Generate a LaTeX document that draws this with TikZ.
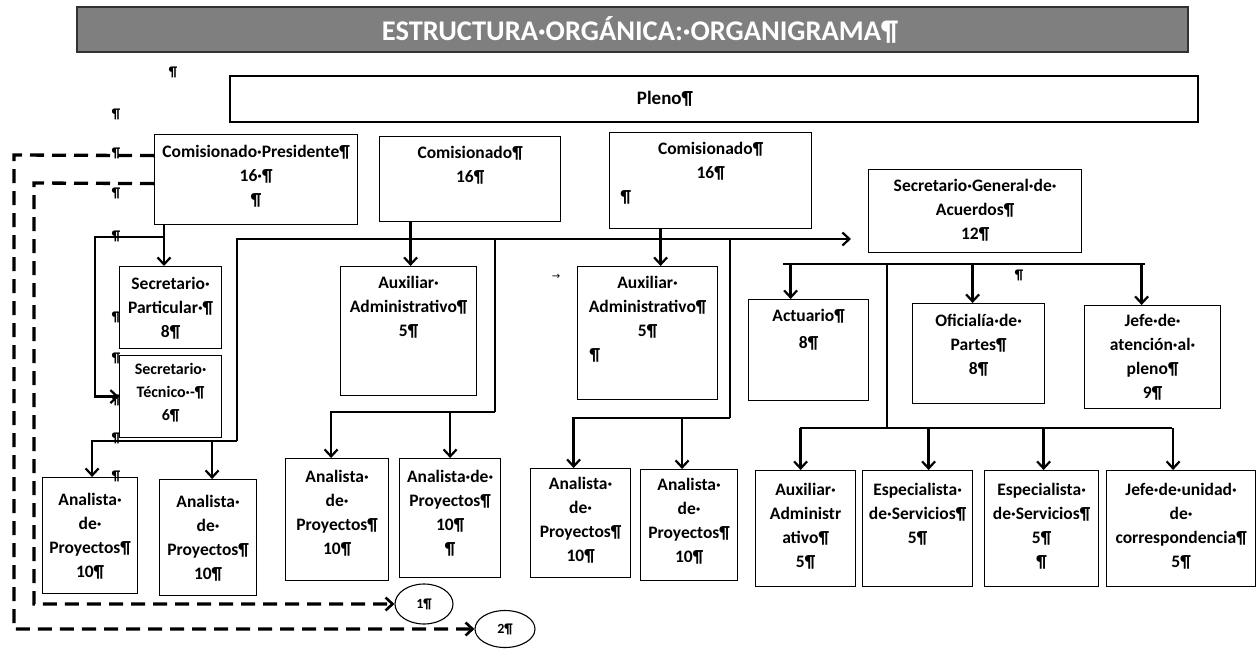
\documentclass[tikz,border=0pt]{standalone}
\usepackage{fontspec}
\setmainfont{Carlito}
\newfontfamily\symfont{DejaVu Sans}
\usetikzlibrary{arrows.meta,calc,shapes.geometric}
\definecolor{titlegray}{RGB}{127,127,127}
\definecolor{titleedge}{RGB}{50,50,50}
\newcommand{\ob}[4][22]{\parbox[c][#3pt][t]{#2pt}{\centering\rule{0pt}{#1pt}#4\par}}
\newcommand{\lpm}[1]{\makebox[\linewidth][l]{\hspace{#1pt}¶}}
\begin{document}
\begin{tikzpicture}[x=1pt,y=-1pt,
  orgbox/.style={draw,line width=1.2pt,inner sep=0pt,anchor=north west,
    font=\bfseries\fontsize{17.5}{24}\selectfont},
  conn/.style={line width=2.6pt},
  arr/.style={-{Straight Barb[length=7pt,width=13pt,line width=2.2pt]}},
  dsh/.style={line width=3.3pt,dash pattern=on 14pt off 8pt},
  darr/.style={-{Straight Barb[length=7pt,width=13pt,line width=2.6pt]}},
  pm/.style={inner sep=0pt,font=\bfseries\fontsize{14}{14}\selectfont},
  circ/.style={ellipse,draw,line width=1.1pt,inner sep=0pt,
    font=\bfseries\fontsize{14}{14}\selectfont}]
\useasboundingbox[fill=white] (0,0) rectangle (1260,648);

% stray paragraph marks
\node[pm] (q0) at (173,47) {¶};
\node[pm] (q1) at (173,72) {¶};
\node[pm] (q2) at (116,114) {¶};
\node[pm] (q3) at (116,153) {¶};
\node[pm] (q4) at (116,193) {¶};
\node[pm] (q5) at (116,236) {¶};
\node[pm] (q6) at (116,317) {¶};
\node[pm] (q7) at (116,358) {¶};
\node[pm] (q8) at (116,400) {¶};
\node[pm] (q9) at (116,438) {¶};
\node[pm] (q10) at (116,476) {¶};
\node[pm] (q11) at (1019,275) {¶};
\node[inner sep=0pt,font=\symfont\fontsize{10}{10}\selectfont] (tab) at (556,277) {→};

% title and Pleno
\node[draw=titleedge,fill=titlegray,line width=1.2pt,minimum width=1111pt,minimum height=45pt,
  inner sep=0pt,text=white,font=\bfseries\fontsize{28.5}{30}\selectfont] (title) at (632.5,29.5)
  {\hspace*{15pt}ESTRUCTURA·ORGÁNICA:·ORGANIGRAMA¶};
\node[draw,line width=1.2pt,minimum width=968pt,minimum height=46pt,inner sep=0pt,
  font=\bfseries\fontsize{19}{22}\selectfont] (pleno) at (714,99)
  {\makebox[900pt][c]{Pleno¶\hspace*{98pt}}};

% first level
\node[orgbox] (cp) at (154,134) {\ob[23]{203}{90}{Comisionado·Presidente¶\\16·¶\\¶}};
\node[orgbox] (c2) at (379,136) {\ob{181}{85}{Comisionado¶\\16¶}};
\node[orgbox] (c3) at (609,132) {\ob{202}{96}{Comisionado¶\\16¶\\\lpm{11}}};
\node[orgbox] (sg) at (868,169) {\ob{213}{83}{Secretario·General·de·\\Acuerdos¶\\12¶}};

% second level
\node[orgbox] (sp) at (119,266) {\ob[23]{102}{82}{Secretario·\\Particular·¶\\8¶}};
\node[orgbox,font=\bfseries\fontsize{16}{23}\selectfont] (st) at (119,355)
  {\ob[19]{102}{82}{Secretario·\\Técnico·-¶\\6¶}};
\node[orgbox] (a1) at (340,266) {\ob{136}{129}{Auxiliar·\\Administrativo¶\\5¶}};
\node[orgbox] (a2) at (577,266) {\ob{140}{133}{Auxiliar·\\Administrativo¶\\5¶\\\lpm{12}}};
\node[orgbox] (act) at (748,299) {\ob[22]{120}{101}{Actuario¶\\[3pt]8¶}};
\node[orgbox] (of) at (912,303) {\ob[23]{132}{100}{Oficialía·de·\\Partes¶\\8¶}};
\node[orgbox] (jat) at (1084,305) {\ob[21]{136}{103}{Jefe·de·\\atención·al·\\pleno¶\\9¶}};

% third level
\node[orgbox] (p1) at (42,477) {\ob[28]{95}{116}{Analista·\\de·\\Proyectos¶\\10¶}};
\node[orgbox] (p2) at (159,479) {\ob[28]{97}{116}{Analista·\\de·\\Proyectos¶\\10¶}};
\node[orgbox] (p3) at (285,458) {\ob[24]{103}{122}{Analista·\\de·\\Proyectos¶\\10¶}};
\node[orgbox] (p4) at (399,458) {\ob[24]{101}{119}{Analista·de·\\Proyectos¶\\10¶\\¶}};
\node[orgbox] (p5) at (530,468) {\ob[21]{100}{109}{Analista·\\de·\\Proyectos¶\\10¶}};
\node[orgbox] (p6) at (640,469) {\ob[21]{97}{111}{Analista·\\de·\\Proyectos¶\\10¶}};
\node[orgbox] (aa) at (755,470) {\ob[25]{100}{116}{Auxiliar·\\Administr\\ativo¶\\5¶}};
\node[orgbox] (e1) at (862,470) {\ob[25]{110}{116}{Especialista·\\de·Servicios¶\\5¶}};
\node[orgbox] (e2) at (984,470) {\ob[25]{114}{116}{Especialista·\\de·Servicios¶\\5¶\\¶}};
\node[orgbox] (ju) at (1106,470) {\ob[25]{149}{116}{Jefe·de·unidad·\\de·\\correspondencia¶\\5¶}};

% circles
\node[circ,minimum width=58pt,minimum height=40pt] (k1) at (424,604) {1¶};
\node[circ,minimum width=60pt,minimum height=37pt] (k2) at (505,629) {2¶};

% junction coordinates
\coordinate (j1) at (164,237);
\coordinate (bL) at (237,441);
\coordinate (bT) at (237,239);
\coordinate (sgin) at (851,239);
\coordinate (m1) at (495,239);
\coordinate (m2) at (495,412);
\coordinate (r1) at (730,239);
\coordinate (r2) at (730,418);
\coordinate (s1) at (783,264);
\coordinate (s2) at (1145,264);
\coordinate (v1) at (887,264);
\coordinate (v2) at (887,428);
\coordinate (h1) at (800,428);
\coordinate (h2) at (1172,428);

% Comisionado Presidente branch
\draw[conn,arr] (cp.south -| j1) -- (sp.north -| j1);
\draw[conn,arr] (j1) -- (95,237) |- (st.west);

% main bus
\draw[conn,arr] (bL) -- (bT) -- (sgin);
\draw[conn,arr] (bL) -| ([xshift=2pt]p1.north);
\draw[conn,arr] ([xshift=4pt]p2.north |- bL) -- ([xshift=4pt]p2.north);

% Comisionado 2 branch
\draw[conn,arr] ([xshift=2pt]a1.north |- c2.south) -- ([xshift=2pt]a1.north);
\draw[conn] (m1) -- (m2);
\draw[conn,arr] (m2) -| ([xshift=-6pt]p3.north);
\draw[conn,arr] (p4.north |- m2) -- (p4.north);

% Comisionado 3 branch
\draw[conn,arr] ([xshift=13pt]a2.north |- c3.south) -- ([xshift=13pt]a2.north);
\draw[conn] (r1) -- (r2);
\draw[conn,arr] (r2) -| ([xshift=-7pt]p5.north);
\draw[conn,arr] ([xshift=-7pt]p6.north |- r2) -- ([xshift=-7pt]p6.north);

% Secretario General branch
\draw[conn] (s1) -- (s2);
\draw[conn,arr] ([xshift=-18pt]act.north |- s1) -- ([xshift=-18pt]act.north);
\draw[conn,arr] ([xshift=-6pt]of.north |- s1) -- ([xshift=-6pt]of.north);
\draw[conn,arr] ([xshift=-11pt]jat.north |- s1) -- ([xshift=-11pt]jat.north);
\draw[conn] (v1) -- (v2);
\draw[conn] (h1) -- (h2);
\draw[conn,arr] ([xshift=-5pt]aa.north |- h1) -- ([xshift=-5pt]aa.north);
\draw[conn,arr] ([xshift=11pt]e1.north |- h1) -- ([xshift=11pt]e1.north);
\draw[conn,arr] ([xshift=2pt]e2.north |- h1) -- ([xshift=2pt]e2.north);
\draw[conn,arr] ([xshift=-8pt]ju.north |- h1) -- ([xshift=-8pt]ju.north);

% dashed links
\draw[dsh,darr] ([yshift=24pt]cp.west) -- (14,155) |- (k2.west);
\draw[dsh,darr] ([yshift=-4pt]cp.west) -- (34,183) |- (k1.west);
\end{tikzpicture}
\end{document}
